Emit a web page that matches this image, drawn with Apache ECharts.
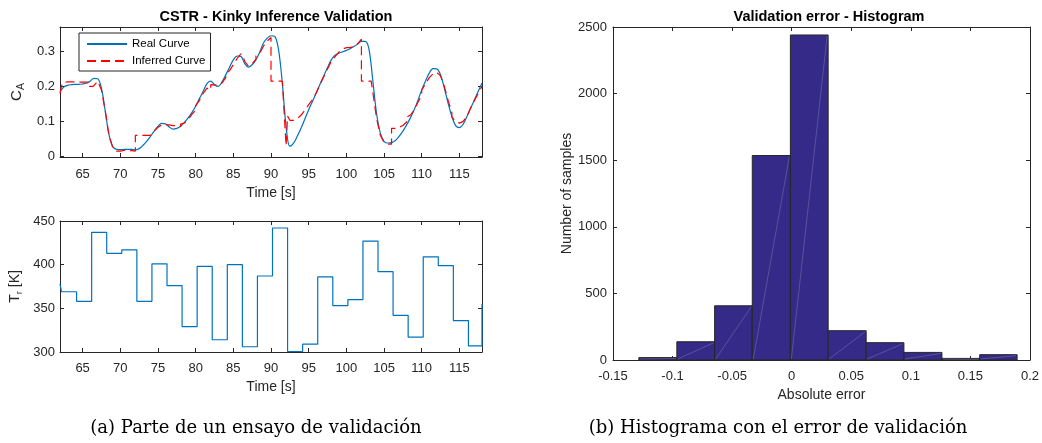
<!DOCTYPE html>
<html><head><meta charset="utf-8">
<script src="https://cdn.jsdelivr.net/npm/echarts@6/dist/echarts.min.js"></script>
<style>html,body{margin:0;padding:0;background:#fff}#c{width:1042px;height:443px}</style>
</head><body><div id="c"></div>
<script>
// ---- Data ----
const realCurve = [
 [62.0,0.185],[62.5,0.198],[63.0,0.203],[63.5,0.205],[64.0,0.206],[64.5,0.206],[65.0,0.207],[65.5,0.209],
 [66.0,0.215],[66.5,0.223],[67.0,0.222],[67.5,0.195],[68.0,0.130],[68.5,0.062],[69.0,0.028],[69.5,0.020],
 [70.0,0.019],[70.5,0.020],[71.0,0.020],[71.5,0.020],[72.0,0.018],[72.5,0.022],[73.0,0.031],[73.5,0.043],
 [74.0,0.057],[74.5,0.072],[75.0,0.086],[75.5,0.094],[76.0,0.093],[76.5,0.084],[77.0,0.078],[77.5,0.080],
 [78.0,0.086],[78.5,0.097],[79.0,0.110],[79.5,0.125],[80.0,0.143],[80.5,0.165],[81.0,0.186],[81.5,0.208],
 [82.0,0.215],[82.5,0.205],[83.0,0.200],[83.5,0.213],[84.0,0.233],[84.5,0.255],[85.0,0.276],[85.5,0.287],
 [86.0,0.286],[86.5,0.266],[87.0,0.255],[87.5,0.262],[88.0,0.276],[88.5,0.298],[89.0,0.324],[89.5,0.338],
 [90.0,0.345],[90.5,0.343],[91.0,0.305],[91.5,0.210],[92.0,0.086],[92.5,0.029],[93.0,0.038],[93.5,0.058],
 [94.0,0.081],[94.5,0.107],[95.0,0.133],[95.5,0.157],[96.0,0.181],[96.5,0.206],[97.0,0.230],[97.5,0.254],
 [98.0,0.276],[98.5,0.289],[99.0,0.295],[99.5,0.299],[100.0,0.303],[100.5,0.308],[101.0,0.314],[101.5,0.321],
 [102.0,0.329],[102.5,0.329],[103.0,0.307],[103.5,0.219],[104.0,0.124],[104.5,0.067],[105.0,0.043],[105.5,0.038],
 [106.0,0.039],[106.5,0.045],[107.0,0.057],[107.5,0.072],[108.0,0.090],[108.5,0.110],[109.0,0.133],[109.5,0.160],
 [110.0,0.190],[110.5,0.215],[111.0,0.238],[111.5,0.251],[112.0,0.250],[112.5,0.233],[113.0,0.195],[113.5,0.152],
 [114.0,0.114],[114.5,0.088],[115.0,0.082],[115.5,0.092],[116.0,0.114],[116.5,0.138],[117.0,0.162],[117.5,0.186],
 [118.0,0.210]
];
const inferredCurve = [
 [62.0,0.180],[62.3,0.210],[63.0,0.213],[64.0,0.213],[65.0,0.212],[65.9,0.212],[65.9,0.200],[66.4,0.200],
 [67.0,0.215],[67.5,0.190],[68.0,0.130],[68.5,0.060],[69.0,0.025],[69.5,0.015],[70.0,0.015],[70.5,0.017],
 [71.0,0.017],[71.5,0.016],[72.0,0.015],[72.0,0.060],[74.0,0.060],[74.5,0.072],[75.0,0.083],[75.5,0.090],
 [76.0,0.090],[76.5,0.090],[77.0,0.088],[77.5,0.088],[78.0,0.085],[78.0,0.092],[78.5,0.095],[79.0,0.105],
 [79.5,0.120],[80.0,0.132],[80.0,0.145],[80.5,0.160],[81.0,0.180],[81.5,0.195],[82.0,0.190],[82.0,0.205],
 [83.0,0.203],[83.5,0.210],[84.0,0.225],[84.0,0.235],[84.5,0.245],[85.0,0.262],[85.5,0.280],[86.0,0.293],
 [86.3,0.285],[86.5,0.272],[87.0,0.258],[87.5,0.265],[88.0,0.278],[88.0,0.287],[88.5,0.295],[89.0,0.315],
 [89.5,0.330],[90.0,0.340],[90.0,0.215],[91.5,0.215],[91.6,0.180],[92.0,0.030],[92.2,0.030],[92.2,0.115],
 [92.5,0.103],[93.0,0.103],[93.5,0.108],[94.0,0.118],[94.5,0.132],[95.0,0.148],[95.5,0.162],[96.0,0.182],
 [96.5,0.205],[97.0,0.228],[97.5,0.250],[98.0,0.272],[98.5,0.285],[99.0,0.298],[99.5,0.307],[100.0,0.311],
 [100.5,0.311],[101.0,0.314],[101.5,0.322],[102.0,0.335],[102.0,0.215],[103.3,0.215],[103.6,0.170],[104.0,0.110],
 [104.5,0.060],[105.0,0.040],[105.5,0.035],[106.0,0.035],[106.0,0.080],[106.5,0.080],[107.0,0.083],[107.5,0.088],
 [108.0,0.098],[108.0,0.112],[108.5,0.118],[109.0,0.132],[109.5,0.155],[110.0,0.175],[110.0,0.190],[110.5,0.207],
 [111.0,0.225],[111.5,0.236],[112.0,0.240],[112.5,0.230],[113.0,0.200],[113.5,0.160],[114.0,0.125],[114.0,0.112],
 [114.5,0.100],[115.0,0.095],[115.5,0.100],[116.0,0.115],[116.5,0.138],[117.0,0.160],[117.5,0.180],[118.0,0.200]
];
const trTimes  = [62, 62.2, 64.2, 66.2, 68.2, 70.2, 72.2, 74.2, 76.2, 78.2, 80.2, 82.2, 84.2, 86.2, 88.2,
                  90.2, 92.2, 94.2, 96.2, 98.2, 100.2, 102.2, 104.2, 106.2, 108.2, 110.2, 112.2, 114.2, 116.2, 118];
const trValues = [378, 369, 358, 437, 413, 417, 358, 401, 376, 329, 398, 314, 400, 306, 387,
                  442, 300.6, 309, 386, 353, 360, 427, 392, 342, 317, 409, 399, 336, 307, 355];
const binEdges  = [-0.1283, -0.0964, -0.0647, -0.0331, -0.0011, 0.0306, 0.0625, 0.0942, 0.1261, 0.1578, 0.1892];
const binCounts = [18, 137, 407, 1535, 2440, 220, 130, 57, 12, 40];
const timeTicks = [65, 70, 75, 80, 85, 90, 95, 100, 105, 110, 115];
const caTicks   = [0, 0.1, 0.2, 0.3];

// ---- Chart ----
const FONT = '"Liberation Sans", Arial, Helvetica, sans-serif';
const AX = '#262626';
const chart = echarts.init(document.getElementById('c'), null, {renderer: 'canvas'});

function xAx(gi, opts, top) {
  return Object.assign({
    gridIndex: gi, type: 'value', position: top ? 'top' : 'bottom',
    axisLine: {show: true, onZero: false, lineStyle: {color: AX, width: 1}},
    axisTick: {show: true, inside: true, length: 4, lineStyle: {color: AX}},
    axisLabel: {show: !top, color: AX, fontSize: 13, fontFamily: FONT, margin: 10},
    splitLine: {show: false}
  }, opts);
}
function yAx(gi, opts, right) {
  return Object.assign({
    gridIndex: gi, type: 'value', position: right ? 'right' : 'left',
    axisLine: {show: true, onZero: false, lineStyle: {color: AX, width: 1}},
    axisTick: {show: true, inside: true, length: 4, lineStyle: {color: AX}},
    axisLabel: {show: !right, color: AX, fontSize: 13, fontFamily: FONT, margin: 5},
    splitLine: {show: false}
  }, opts);
}
function customTicks(vals) {
  return {axisTick: {show: true, inside: true, length: 4, lineStyle: {color: AX}, customValues: vals}};
}

const timeAxisBase = {min: 62, max: 118};
const nameStyle = {color: AX, fontSize: 14, fontFamily: FONT};
const plain = v => String(v);

const xAxes = [
  xAx(0, Object.assign({}, timeAxisBase, customTicks(timeTicks), {
    axisLabel: {show: true, color: AX, fontSize: 13, fontFamily: FONT, margin: 11, customValues: timeTicks},
    name: 'Time [s]', nameLocation: 'middle', nameGap: 29, nameTextStyle: nameStyle})),
  xAx(0, Object.assign({}, timeAxisBase, customTicks(timeTicks)), true),
  xAx(1, Object.assign({}, timeAxisBase, customTicks(timeTicks), {
    axisLabel: {show: true, color: AX, fontSize: 13, fontFamily: FONT, margin: 10, customValues: timeTicks},
    name: 'Time [s]', nameLocation: 'middle', nameGap: 28, nameTextStyle: nameStyle})),
  xAx(1, Object.assign({}, timeAxisBase, customTicks(timeTicks)), true),
  xAx(2, {min: -0.15, max: 0.2, interval: 0.05,
    name: 'Absolute error', nameLocation: 'middle', nameGap: 28, nameTextStyle: nameStyle}),
  xAx(2, {min: -0.15, max: 0.2, interval: 0.05}, true)
];
const yAxes = [
  yAx(0, Object.assign({min: -0.002, max: 0.37}, customTicks(caTicks), {
    axisLabel: {show: true, color: AX, fontSize: 13, fontFamily: FONT, margin: 5, customValues: caTicks},
    name: '{a|C}{b|A}', nameLocation: 'middle', nameGap: 33, nameRotate: 90,
    nameTextStyle: {color: AX, fontFamily: FONT, rich: {
      a: {fontSize: 15, fontFamily: FONT, color: AX},
      b: {fontSize: 10.5, fontFamily: FONT, color: AX, padding: [9, 0, 0, 0]}}}})),
  yAx(0, Object.assign({min: -0.002, max: 0.37}, customTicks(caTicks)), true),
  yAx(1, {min: 300, max: 450, interval: 50,
    name: '{a|T}{b|r}{a| [K]}', nameLocation: 'middle', nameGap: 36, nameRotate: 90,
    nameTextStyle: {color: AX, fontFamily: FONT, rich: {
      a: {fontSize: 14, fontFamily: FONT, color: AX},
      b: {fontSize: 9.5, fontFamily: FONT, color: AX, padding: [8, 0, 0, 0]}}}}),
  yAx(1, {min: 300, max: 450, interval: 50}, true),
  yAx(2, {min: 0, max: 2500, interval: 500,
    axisLabel: {show: true, color: AX, fontSize: 13, fontFamily: FONT, margin: 6, formatter: plain},
    name: 'Number of samples', nameLocation: 'middle', nameGap: 35, nameRotate: 90, nameTextStyle: nameStyle}),
  yAx(2, {min: 0, max: 2500, interval: 500}, true)
];

const histData = binCounts.map((c, i) => [binEdges[i], binEdges[i + 1], c]);
const trData = trTimes.map((t, i) => [t, trValues[i]]);

chart.setOption({
  animation: false,
  backgroundColor: '#fff',
  title: [
    {text: 'CSTR - Kinky Inference Validation', left: 271, top: 4, textAlign: 'center',
     textStyle: {fontSize: 14.5, fontWeight: 'bold', color: '#000', fontFamily: FONT}},
    {text: 'Validation error - Histogram', left: 824, top: 4, textAlign: 'center',
     textStyle: {fontSize: 14.5, fontWeight: 'bold', color: '#000', fontFamily: FONT}}
  ],
  grid: [
    {left: 60, top: 27, width: 422, height: 130},
    {left: 60, top: 221, width: 422, height: 131},
    {left: 613, top: 27, width: 422, height: 333}
  ],
  legend: {
    left: 79, top: 33, orient: 'vertical', data: ['Real Curve', 'Inferred Curve'],
    itemWidth: 40, itemHeight: 12, itemGap: 5, padding: [5, 5, 4, 7],
    itemStyle: {color: 'rgba(0,0,0,0)', borderWidth: 0, opacity: 0},
    borderColor: AX, borderWidth: 1, backgroundColor: '#fff', borderRadius: 0,
    textStyle: {fontSize: 11.5, color: '#000', fontFamily: FONT}, selectedMode: false
  },
  xAxis: xAxes,
  yAxis: yAxes,
  series: [
    {name: 'Real Curve', type: 'line', xAxisIndex: 0, yAxisIndex: 0, data: realCurve,
     symbol: 'none', smooth: 0.35, lineStyle: {color: '#0072BD', width: 1.2}, itemStyle: {color: '#0072BD'}, z: 3},
    {name: 'Inferred Curve', type: 'line', xAxisIndex: 0, yAxisIndex: 0, data: inferredCurve,
     symbol: 'none', lineStyle: {color: '#ff0000', width: 1.2, type: [9, 5]}, itemStyle: {color: '#ff0000'}, z: 4},
    {name: 'Tr', type: 'line', xAxisIndex: 2, yAxisIndex: 2, data: trData, step: 'end',
     symbol: 'none', lineStyle: {color: '#0072BD', width: 1.2}},
    {name: 'hist', type: 'custom', xAxisIndex: 4, yAxisIndex: 4, data: histData,
     encode: {x: [0, 1], y: 2},
     renderItem: function (params, api) {
       const p0 = api.coord([api.value(0), 0]);
       const p1 = api.coord([api.value(1), api.value(2)]);
       return {type: 'group', children: [
         {type: 'rect', shape: {x: p0[0], y: p1[1], width: p1[0] - p0[0], height: p0[1] - p1[1]},
          style: {fill: '#352a87', stroke: '#262626', lineWidth: 1}},
         {type: 'line', shape: {x1: p0[0] + 1, y1: p0[1] - 1, x2: p1[0] - 1, y2: p1[1] + 1},
          style: {stroke: 'rgba(255,255,255,0.3)', lineWidth: 0.6}}
       ]};
     }}
  ],
  graphic: [
    {type: 'text', x: 256, y: 428, style: {text: '(a) Parte de un ensayo de validación', textAlign: 'center', textVerticalAlign: 'middle',
      align: 'center', verticalAlign: 'middle', font: '18px "DejaVu Serif", serif', fill: '#000'}},
    {type: 'text', x: 778, y: 428, style: {text: '(b) Histograma con el error de validación', textAlign: 'center', textVerticalAlign: 'middle',
      align: 'center', verticalAlign: 'middle', font: '18px "DejaVu Serif", serif', fill: '#000'}}
  ]
});
</script></body></html>
